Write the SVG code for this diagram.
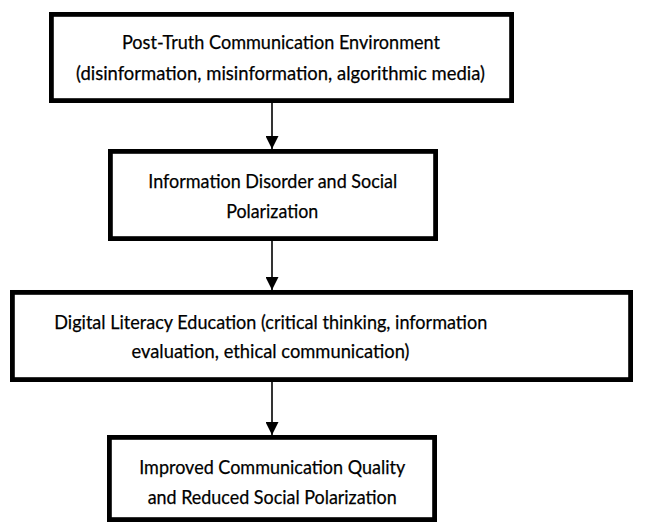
<svg xmlns="http://www.w3.org/2000/svg" width="646" height="525" viewBox="0 0 646 525">
  <defs>
    <style>
      .box { fill: #ffffff; stroke: #000000; stroke-width: 4.8; }
      .label { font-family: Lato, "Open Sans", "Liberation Sans", sans-serif; font-size: 20px; fill: #000000; stroke: #000000; stroke-width: 0.25; text-anchor: middle; }
      .link { stroke: #000000; stroke-width: 1.6; fill: none; marker-end: url(#head); }
    </style>
    <marker id="head" viewBox="0 0 13 13" markerWidth="13" markerHeight="13" refX="13" refY="6.5" orient="auto" markerUnits="userSpaceOnUse">
      <path d="M0,0 L13,6.5 L0,13 z" fill="#000000"/>
    </marker>
  </defs>

  <rect width="646" height="525" fill="#ffffff"/>

  <!-- flow arrows between the stages -->
  <g id="connectors">
    <line class="link" x1="272" y1="103" x2="272" y2="149"/>
    <line class="link" x1="272" y1="241" x2="272" y2="290"/>
    <line class="link" x1="272" y1="382" x2="272" y2="435"/>
  </g>

  <g id="post-truth-environment">
    <rect class="box" x="51.4" y="14.4" width="460.2" height="86.2"/>
    <text class="label" x="281" y="48.5" textLength="318" lengthAdjust="spacingAndGlyphs">Post-Truth Communication Environment</text>
    <text class="label" x="280.5" y="79.5" textLength="409" lengthAdjust="spacingAndGlyphs">(disinformation, misinformation, algorithmic media)</text>
  </g>

  <g id="information-disorder">
    <rect class="box" x="110.4" y="151.4" width="325.2" height="87.2"/>
    <text class="label" x="272.8" y="188" textLength="249" lengthAdjust="spacingAndGlyphs">Information Disorder and Social</text>
    <text class="label" x="272.2" y="218" textLength="92" lengthAdjust="spacingAndGlyphs">Polarization</text>
  </g>

  <g id="digital-literacy-education">
    <rect class="box" x="12.4" y="292.4" width="618.2" height="87.2"/>
    <text class="label" x="270.8" y="329" textLength="433" lengthAdjust="spacingAndGlyphs">Digital Literacy Education (critical thinking, information</text>
    <text class="label" x="270.5" y="358" textLength="278" lengthAdjust="spacingAndGlyphs">evaluation, ethical communication)</text>
  </g>

  <g id="improved-communication">
    <rect class="box" x="109.4" y="437.4" width="325.2" height="82.2"/>
    <text class="label" x="272.2" y="474" textLength="266" lengthAdjust="spacingAndGlyphs">Improved Communication Quality</text>
    <text class="label" x="272.2" y="504" textLength="249" lengthAdjust="spacingAndGlyphs">and Reduced Social Polarization</text>
  </g>
</svg>
